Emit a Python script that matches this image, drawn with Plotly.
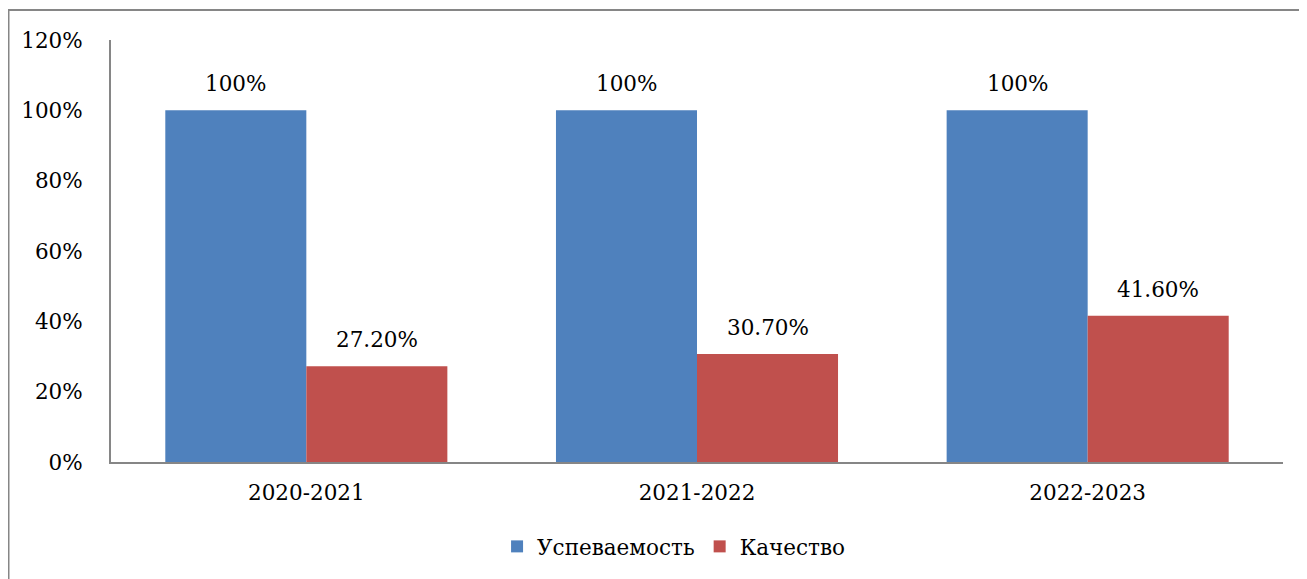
import plotly.graph_objects as go

categories = ["2020-2021", "2021-2022", "2022-2023"]
uspevaemost = [1.00, 1.00, 1.00]
kachestvo = [0.272, 0.307, 0.416]
uspev_labels = ["100%", "100%", "100%"]
kach_labels = ["27.20%", "30.70%", "41.60%"]
y_ticks = [0, 0.2, 0.4, 0.6, 0.8, 1.0, 1.2]
y_tick_labels = ["0%", "20%", "40%", "60%", "80%", "100%", "120%"]

FONT = "DejaVu Serif"
FS = 21.5
BLUE = "#4F81BD"
RED = "#C0504D"
GRAY = "#868686"

fig = go.Figure()
fig.add_trace(go.Bar(name="Успеваемость", x=categories, y=uspevaemost,
                     marker=dict(color=BLUE, line=dict(width=0))))
fig.add_trace(go.Bar(name="Качество", x=categories, y=kachestvo,
                     marker=dict(color=RED, line=dict(width=0))))

# page has 8px body margin; figure sized to fit in the window
W, H = 1299, 571
L, R, T, B = 103, 24, 32, 117
pw = W - L - R
ph = H - T - B
catw = pw / 3
bargap = 0.278
barw = catw * (1 - bargap) / 2

annotations = []
for i, c in enumerate(categories):
    annotations.append(dict(x=c, y=uspevaemost[i], xref="x", yref="y", text=uspev_labels[i],
                            showarrow=False, xshift=-barw / 2, yshift=12, yanchor="bottom",
                            font=dict(family=FONT, size=FS, color="black")))
    annotations.append(dict(x=c, y=kachestvo[i], xref="x", yref="y", text=kach_labels[i],
                            showarrow=False, xshift=barw / 2, yshift=12, yanchor="bottom",
                            font=dict(family=FONT, size=FS, color="black")))

fig.update_layout(
    width=W, height=H,
    margin=dict(l=L, r=R, t=T, b=B, autoexpand=False),
    barmode="group", bargap=bargap, bargroupgap=0,
    plot_bgcolor="white", paper_bgcolor="white",
    font=dict(family=FONT, size=FS, color="black"),
    xaxis=dict(showline=True, linecolor=GRAY, linewidth=2, ticks="", showgrid=False,
               ticklabelstandoff=10,
               tickfont=dict(family=FONT, size=FS, color="black")),
    yaxis=dict(range=[0, 1.2], tickvals=y_ticks, ticktext=y_tick_labels,
               showline=True, linecolor=GRAY, linewidth=2, ticks="", showgrid=False,
               zeroline=False, ticklabelstandoff=22,
               tickfont=dict(family=FONT, size=FS, color="black")),
    legend=dict(orientation="h", x=0.48, xanchor="center", y=-0.2, yanchor="middle",
                font=dict(family=FONT, size=FS, color="black"), itemwidth=30,
                traceorder="normal"),
    annotations=annotations,
    shapes=[dict(type="rect", xref="paper", yref="paper",
                 x0=(0.5 - L) / pw, x1=1.2, y0=-0.5, y1=(ph + T - 2) / ph,
                 line=dict(color=GRAY, width=2), fillcolor="rgba(0,0,0,0)", layer="below")],
)

fig.write_html("out.html")
